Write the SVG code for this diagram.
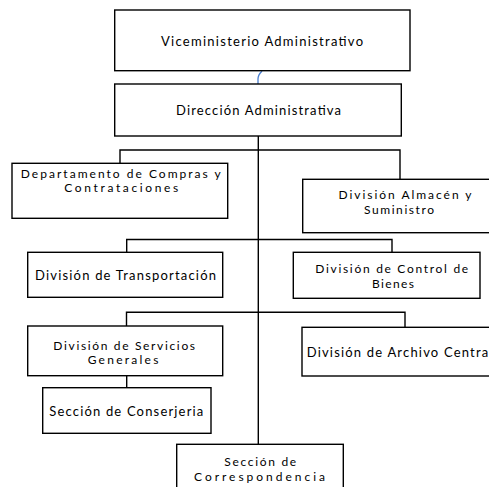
<svg xmlns="http://www.w3.org/2000/svg" width="489" height="487" viewBox="0 0 489 487">
<style>
.box{fill:#fff;stroke:#000;stroke-width:1.4}
.t{font-family:Lato,"Open Sans","DejaVu Sans",sans-serif;font-size:12px;fill:#000;text-anchor:middle}
.ln{fill:none;stroke:#000;stroke-width:1.4}
</style>
<rect width="489" height="487" fill="#fff"/>
<g id="connectors">
<path class="ln" d="M258.3 136V444.3"/>
<path class="ln" d="M120 163.3V150H400V179.3"/>
<path class="ln" d="M126.7 252.3V239.5H392V252.3"/>
<path class="ln" d="M126.5 326V312.3H405V327.3"/>
<path class="ln" d="M126.7 375.7V387.7"/>
<path d="M262 71C259 74 258 76 258 79V84" fill="none" stroke="#4a7fd0" stroke-width="1.3"/>
</g>
<g id="viceministerio">
<rect class="box" x="114.7" y="10" width="295.3" height="60.7"/>
<text class="t" x="262" y="46" textLength="202" lengthAdjust="spacing" style="font-size:13px">Viceministerio  Administrativo</text>
</g>
<g id="direccion">
<rect class="box" x="114.7" y="84" width="286.6" height="52"/>
<text class="t" x="258.5" y="114.5" textLength="165" lengthAdjust="spacing" style="font-size:13px">Dirección Administrativa</text>
</g>
<g id="compras">
<rect class="box" x="12" y="163.3" width="215.7" height="55"/>
<text class="t" x="120.8" y="177.5" textLength="200" lengthAdjust="spacing">Departamento de Compras y</text>
<text class="t" x="121.3" y="192" textLength="114" lengthAdjust="spacing">Contrataciones</text>
</g>
<g id="almacen">
<rect class="box" x="302.7" y="179.3" width="188" height="53.4"/>
<text class="t" x="405" y="199" textLength="133" lengthAdjust="spacing">División Almacén y</text>
<text class="t" x="399" y="213.5" textLength="70" lengthAdjust="spacing">Suministro</text>
</g>
<g id="transportacion">
<rect class="box" x="27.7" y="252.3" width="195" height="45"/>
<text class="t" x="125.5" y="279.5" textLength="181" lengthAdjust="spacing" style="font-size:13px">División de Transportación</text>
</g>
<g id="control-bienes">
<rect class="box" x="293.3" y="252.3" width="186.7" height="46"/>
<text class="t" x="391.7" y="273" textLength="153" lengthAdjust="spacing">División de Control de</text>
<text class="t" x="393" y="287.5" textLength="42" lengthAdjust="spacing">Bienes</text>
</g>
<g id="servicios-generales">
<rect class="box" x="27.7" y="326" width="195" height="49.7"/>
<text class="t" x="124.2" y="349.5" textLength="141.7" lengthAdjust="spacing">División de Servicios</text>
<text class="t" x="123" y="364" textLength="70.7" lengthAdjust="spacing">Generales</text>
</g>
<g id="archivo-central">
<rect class="box" x="302" y="327.3" width="188.7" height="48.7"/>
<text class="t" x="306.7" y="357" style="text-anchor:start;font-size:13px" textLength="181.5" lengthAdjust="spacing">División de Archivo Centra</text>
</g>
<g id="conserjeria">
<rect class="box" x="42.7" y="387.7" width="168.3" height="45.6"/>
<text class="t" x="126.3" y="415.5" textLength="154" lengthAdjust="spacing" style="font-size:13px">Sección de Conserjeria</text>
</g>
<g id="correspondencia">
<rect class="box" x="176.7" y="444.3" width="166.6" height="50"/>
<text class="t" x="260.2" y="466" textLength="72" lengthAdjust="spacing">Sección de</text>
<text class="t" x="259.5" y="480.5" textLength="131" lengthAdjust="spacing">Correspondencia</text>
</g>
</svg>
